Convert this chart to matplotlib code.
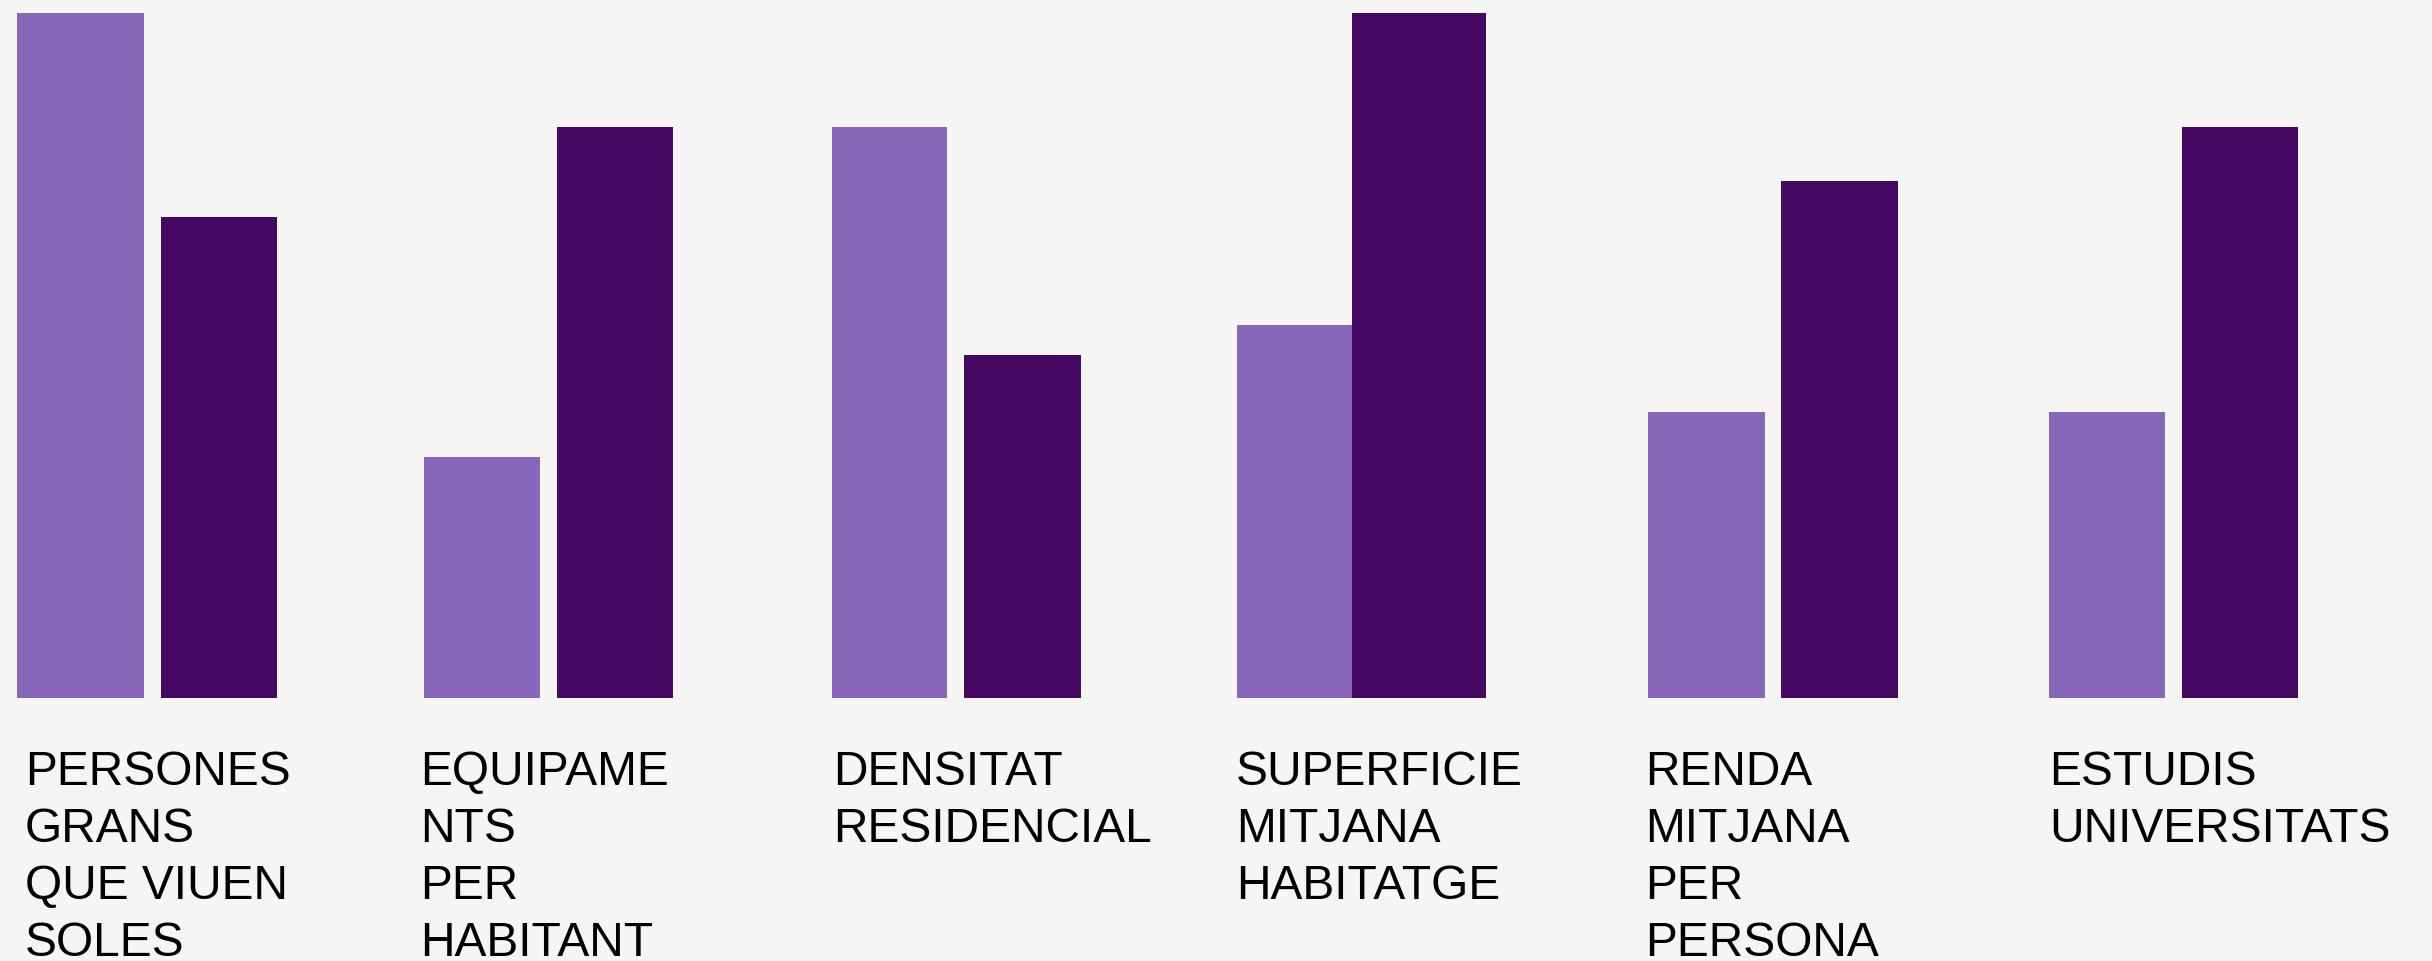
import matplotlib.pyplot as plt

# data
categories = ["PERSONES\nGRANS\nQUE VIUEN\nSOLES",
              "EQUIPAME\nNTS\nPER\nHABITANT",
              "DENSITAT\nRESIDENCIAL",
              "SUPERFICIE\nMITJANA\nHABITATGE",
              "RENDA\nMITJANA\nPER\nPERSONA",
              "ESTUDIS\nUNIVERSITATS"]
light_vals = [1.0, 0.352, 0.834, 0.545, 0.418, 0.418]
dark_vals = [0.702, 0.834, 0.501, 1.0, 0.755, 0.834]

# layout (pixels of a 2432x962 canvas)
W, H = 2432, 962
light_left = [17, 424, 832, 1237, 1648, 2049]
light_w = [127, 116, 115, 115, 117, 116]
dark_left = [161, 557, 964, 1352, 1781, 2182]
dark_w = [116, 116, 117, 134, 117, 116]
label_left = [25, 420, 833, 1236, 1645, 2049]
base_px, top_px = 699, 14
first_line_px, line_step = 785, 57

bg = "#f5f5f3"
light_col = "#8866ba"
dark_col = "#450963"

fig = plt.figure(figsize=(W / 100, H / 100), dpi=100, facecolor=bg)
ax = fig.add_axes([0, 1 - base_px / H, 1, (base_px - top_px) / H])
ax.set_facecolor(bg)
ax.bar(light_left, light_vals, width=light_w, align="edge", color=light_col)
ax.bar(dark_left, dark_vals, width=dark_w, align="edge", color=dark_col)
ax.set_xlim(0, W)
ax.set_ylim(0, 1)
ax.axis("off")

for x, lab in zip(label_left, categories):
    for i, line in enumerate(lab.split("\n")):
        fig.text(x / W, 1 - (first_line_px + i * line_step) / H, line,
                 fontsize=34.5, family="Liberation Sans", color="black",
                 ha="left", va="baseline")

fig.savefig("out.png", dpi=100, facecolor=bg)
